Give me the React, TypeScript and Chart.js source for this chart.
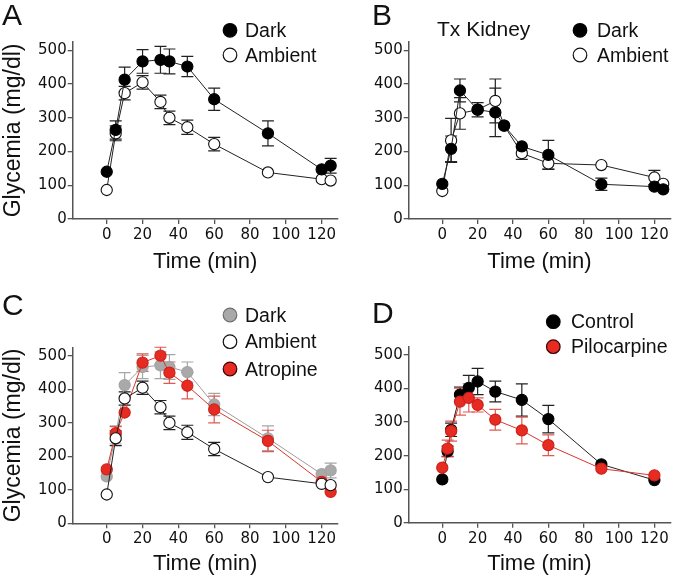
import React, { useEffect, useRef } from "react";
import { Chart, registerables } from "chart.js";
Chart.register(...registerables);

// ---------- data ----------
const timeABC = [0, 5, 10, 20, 30, 35, 45, 60, 90, 120, 125];
const timeD = [0, 3, 5, 10, 15, 20, 30, 45, 60, 90, 120];
const xTicks = [0, 20, 40, 60, 80, 100, 120];
const yTicks = [0, 100, 200, 300, 400, 500];

const darkA = [140, 264, 413, 467, 472, 467, 452, 355, 254, 147, 158];
const darkAErr = [0, 27, 37, 35, 40, 37, 30, 33, 37, 0, 22];
const ambientA = [86, 254, 373, 405, 347, 300, 272, 222, 138, 118, 114];
const ambientAErr = [0, 22, 20, 20, 20, 20, 21, 20, 0, 0, 0];

const darkB = [104, 208, 381, 324, 316, 277, 215, 190, 103, 96, 88];
const darkBErr = [0, 38, 34, 21, 72, 0, 0, 43, 18, 0, 0];
const ambientB = [83, 233, 313, 324, 350, 277, 195, 165, 160, 123, 104];
const ambientBErr = [0, 65, 47, 0, 65, 0, 18, 17, 0, 21, 0];

const atropineC = [161, 269, 331, 480, 501, 450, 411, 340, 246, 124, 94];
const atropineCErr = [0, 20, 0, 26, 25, 32, 39, 40, 32, 0, 0];

const controlD = [129, 213, 277, 382, 402, 421, 391, 366, 309, 174, 127];
const controlDErr = [0, 15, 20, 22, 37, 39, 31, 48, 41, 0, 0];
const pilocarpineD = [164, 221, 273, 361, 372, 351, 307, 275, 231, 161, 141];
const pilocarpineDErr = [0, 25, 30, 40, 42, 21, 31, 40, 31, 0, 0];

const yTitleText = "Glycemia (mg/dl)";
const xTitleText = "Time (min)";
const subtitleB = "Tx Kidney";

// ---------- styles ----------
const TITLE_FONT = "'Liberation Sans', Arial, sans-serif";
const TICK_FONT = "'DejaVu Sans', sans-serif";
const AXIS = "#555555";
const INK = "#111111";
const RED = "#e52b22";

type Series = {
  label: string;
  x: number[];
  y: number[];
  err: number[];
  fill: string;
  stroke: string;
  line: string;
  errColor: string;
  legendStroke: string;
};

const sDarkA: Series = { label: "Dark", x: timeABC, y: darkA, err: darkAErr, fill: "#000000", stroke: "#000000", line: "#222222", errColor: "#222222", legendStroke: "#000000" };
const sAmbA: Series = { label: "Ambient", x: timeABC, y: ambientA, err: ambientAErr, fill: "#ffffff", stroke: "#111111", line: "#222222", errColor: "#222222", legendStroke: "#111111" };
const sDarkB: Series = { ...sDarkA, y: darkB, err: darkBErr };
const sAmbB: Series = { ...sAmbA, y: ambientB, err: ambientBErr };
const sDarkC: Series = { label: "Dark", x: timeABC, y: darkA, err: darkAErr, fill: "#a9a9a9", stroke: "#a3a3a3", line: "#9c9c9c", errColor: "#a6a6a6", legendStroke: "#6f6f6f" };
const sAtrC: Series = { label: "Atropine", x: timeABC, y: atropineC, err: atropineCErr, fill: RED, stroke: "#cf2119", line: "#d8362d", errColor: "#df5a52", legendStroke: "#3a0000" };
const sCtrlD: Series = { label: "Control", x: timeD, y: controlD, err: controlDErr, fill: "#000000", stroke: "#000000", line: "#222222", errColor: "#222222", legendStroke: "#000000" };
const sPiloD: Series = { label: "Pilocarpine", x: timeD, y: pilocarpineD, err: pilocarpineDErr, fill: RED, stroke: "#cf2119", line: "#d8362d", errColor: "#df5a52", legendStroke: "#3a0000" };

type LegendItem = { s: Series; mx: number; my: number; tx: number };
type PanelCfg = {
  letter: string;
  lx: number;
  ly: number;
  subtitle?: { text: string; x: number; y: number };
  series: Series[]; // drawing order: first = on top
  legend: LegendItem[];
  padding: { left: number; top: number; right: number; bottom: number };
  yWidth: number;
  xHeight: number;
  showYTitle: boolean;
  xTitlePad: number;
};

const panels: PanelCfg[] = [
  {
    letter: "A", lx: 2, ly: 25,
    series: [sDarkA, sAmbA],
    legend: [
      { s: sDarkA, mx: 230, my: 30.3, tx: 245 },
      { s: sAmbA, mx: 230, my: 55, tx: 245 },
    ],
    padding: { left: 0, top: 41.9, right: 677 - 337.8, bottom: 581 - 219 - 71 },
    yWidth: 72.7, xHeight: 71, showYTitle: true, xTitlePad: 14.5,
  },
  {
    letter: "B", lx: 372, ly: 25,
    subtitle: { text: subtitleB, x: 437, y: 36 },
    series: [sDarkB, sAmbB],
    legend: [
      { s: sDarkB, mx: 580, my: 30.3, tx: 597 },
      { s: sAmbB, mx: 580, my: 55, tx: 597 },
    ],
    padding: { left: 408.7 - 50, top: 41.9, right: 677 - 673.4, bottom: 581 - 219 - 71 },
    yWidth: 50, xHeight: 71, showYTitle: false, xTitlePad: 14.5,
  },
  {
    letter: "C", lx: 2, ly: 315,
    series: [{ ...sAmbA }, sAtrC, sDarkC],
    legend: [
      { s: sDarkC, mx: 230, my: 315, tx: 245 },
      { s: sAmbA, mx: 230, my: 341.7, tx: 245 },
      { s: sAtrC, mx: 230, my: 369, tx: 245 },
    ],
    padding: { left: 0, top: 347.6, right: 677 - 337.8, bottom: 0 },
    yWidth: 72.7, xHeight: 581 - 523.3, showYTitle: true, xTitlePad: 3.8,
  },
  {
    letter: "D", lx: 372, ly: 323,
    series: [sPiloD, sCtrlD],
    legend: [
      { s: sCtrlD, mx: 553.3, my: 321.7, tx: 571 },
      { s: sPiloD, mx: 553.3, my: 346.7, tx: 571 },
    ],
    padding: { left: 408.7 - 50, top: 346.6, right: 677 - 673.4, bottom: 0 },
    yWidth: 50, xHeight: 581 - 522.7, showYTitle: false, xTitlePad: 3.8,
  },
];

// ---------- plugins ----------
const errorBarPlugin = {
  id: "errorBarsCustom",
  beforeDatasetsDraw(chart: any) {
    const ctx = chart.ctx;
    const xs = chart.scales.x;
    const ys = chart.scales.y;
    const ds = chart.data.datasets;
    for (let d = ds.length - 1; d >= 0; d--) {
      const set: any = ds[d];
      const errs: number[] = set.errorValues || [];
      ctx.save();
      ctx.strokeStyle = set.errorColor;
      ctx.lineWidth = 1.2;
      set.data.forEach((p: any, i: number) => {
        const e = errs[i];
        if (!e) return;
        const px = xs.getPixelForValue(p.x);
        const yt = ys.getPixelForValue(p.y + e);
        const yb = ys.getPixelForValue(p.y - e);
        ctx.beginPath();
        ctx.moveTo(px, yt);
        ctx.lineTo(px, yb);
        ctx.moveTo(px - 6, yt);
        ctx.lineTo(px + 6, yt);
        ctx.moveTo(px - 6, yb);
        ctx.lineTo(px + 6, yb);
        ctx.stroke();
      });
      ctx.restore();
    }
  },
};

function makeDecorPlugin(cfg: PanelCfg) {
  return {
    id: "decor" + cfg.letter,
    afterDraw(chart: any) {
      const ctx = chart.ctx;
      ctx.save();
      ctx.fillStyle = INK;
      ctx.textBaseline = "alphabetic";
      ctx.textAlign = "left";
      ctx.font = `30px ${TITLE_FONT}`;
      ctx.fillText(cfg.letter, cfg.lx, cfg.ly);
      if (cfg.subtitle) {
        ctx.font = `21px ${TITLE_FONT}`;
        ctx.fillText(cfg.subtitle.text, cfg.subtitle.x, cfg.subtitle.y);
      }
      cfg.legend.forEach((it) => {
        ctx.beginPath();
        ctx.arc(it.mx, it.my, 6.8, 0, Math.PI * 2);
        ctx.fillStyle = it.s.fill;
        ctx.fill();
        ctx.lineWidth = 1.2;
        ctx.strokeStyle = it.s.legendStroke;
        ctx.stroke();
        ctx.fillStyle = INK;
        ctx.font = `19.5px ${TITLE_FONT}`;
        ctx.fillText(it.s.label, it.tx, it.my + 6.5);
      });
      ctx.restore();
    },
  };
}

function Panel({ cfg }: { cfg: PanelCfg }) {
  const ref = useRef<HTMLCanvasElement>(null);
  useEffect(() => {
    const datasets = cfg.series.map((s) => ({
      label: s.label,
      data: s.x.map((t, i) => ({ x: t, y: s.y[i] })),
      showLine: true,
      borderColor: s.line,
      borderWidth: 1,
      backgroundColor: s.fill,
      pointBackgroundColor: s.fill,
      pointBorderColor: s.stroke,
      pointBorderWidth: 1.1,
      pointRadius: 5.6,
      pointHoverRadius: 5.6,
      tension: 0,
      clip: false as any,
      errorValues: s.err,
      errorColor: s.errColor,
    }));
    const chart = new Chart(ref.current as HTMLCanvasElement, {
      type: "scatter",
      data: { datasets: datasets as any },
      options: {
        animation: false,
        responsive: false,
        devicePixelRatio: 1,
        events: [],
        layout: { padding: cfg.padding },
        plugins: { legend: { display: false }, tooltip: { enabled: false } },
        scales: {
          x: {
            type: "linear",
            min: -19,
            max: 129,
            afterBuildTicks: (s: any) => {
              s.ticks = xTicks.map((v) => ({ value: v }));
            },
            afterFit: (s: any) => {
              s.height = cfg.xHeight;
              s.paddingLeft = 0;
              s.paddingRight = 0;
            },
            grid: { display: true, drawOnChartArea: false, drawTicks: true, tickLength: 5, color: AXIS, lineWidth: 1.3 },
            border: { display: true, color: AXIS, width: 1.5 },
            ticks: { color: INK, font: { family: TICK_FONT, size: 15 }, padding: 2, maxRotation: 0, autoSkip: false },
            title: { display: true, text: xTitleText, color: INK, font: { family: TITLE_FONT, size: 22 }, padding: { top: 0, bottom: cfg.xTitlePad } },
          },
          y: {
            type: "linear",
            min: 0,
            max: 525,
            afterBuildTicks: (s: any) => {
              s.ticks = yTicks.map((v) => ({ value: v }));
            },
            afterFit: (s: any) => {
              s.width = cfg.yWidth;
              s.paddingTop = 0;
              s.paddingBottom = 0;
            },
            grid: { display: true, drawOnChartArea: false, drawTicks: true, tickLength: 5, color: AXIS, lineWidth: 1.3 },
            border: { display: true, color: AXIS, width: 1.5 },
            ticks: { color: INK, font: { family: TICK_FONT, size: 15 }, padding: 1, autoSkip: false },
            title: { display: cfg.showYTitle, text: yTitleText, color: INK, font: { family: TITLE_FONT, size: 23 }, padding: { top: 0, bottom: 0 } },
          },
        },
      } as any,
      plugins: [errorBarPlugin, makeDecorPlugin(cfg)],
    });
    return () => chart.destroy();
  }, [cfg]);
  return (
    <canvas
      ref={ref}
      width={677}
      height={581}
      style={{ position: "absolute", left: 0, top: 0, width: 677, height: 581 }}
    />
  );
}

export default function App() {
  return (
    <div style={{ position: "absolute", left: 0, top: 0, width: 677, height: 581, background: "#ffffff" }}>
      {panels.map((p) => (
        <Panel key={p.letter} cfg={p} />
      ))}
    </div>
  );
}
